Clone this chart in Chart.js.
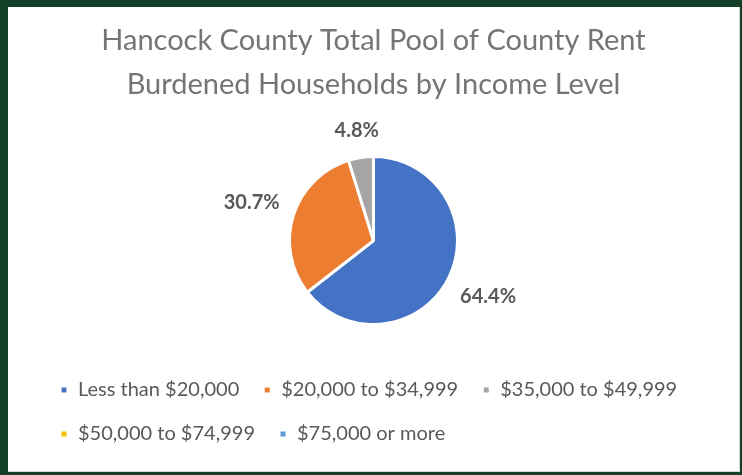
<!DOCTYPE html>
<html>
<head>
<meta charset="utf-8">
<script src="https://cdn.jsdelivr.net/npm/chart.js@4/dist/chart.umd.min.js"></script>
<style>
  html, body { margin: 0; padding: 0; }
  body { width: 742px; height: 475px; background: #143f29; position: relative; overflow: hidden; }
  #box {
    position: absolute; left: 8px; top: 7px; width: 731px; height: 464px;
    background: #fff; border-right: 1px solid #d4d4d4; border-bottom: 1px solid #d4d4d4;
  }
</style>
</head>
<body>
<div id="box"><canvas id="chart" width="731" height="464"></canvas></div>
<script>
var categories = [
  "Less than $20,000",
  "$20,000 to $34,999",
  "$35,000 to $49,999",
  "$50,000 to $74,999",
  "$75,000 or more"
];
var shares = [64.4, 30.7, 4.8, 0, 0];
var sliceColors = ["#4472C4", "#ED7D31", "#A5A5A5", "#FFC000", "#5B9BD5"];

// labels outside the slices, like Excel "outside end"
var outsideLabels = {
  id: "outsideLabels",
  afterDatasetsDraw: function (chart) {
    var ctx = chart.ctx;
    var meta = chart.getDatasetMeta(0);
    ctx.save();
    ctx.font = "bold 20px Lato";
    ctx.fillStyle = "#595959";
    ctx.textAlign = "center";
    ctx.textBaseline = "middle";
    meta.data.forEach(function (arc, i) {
      var v = shares[i];
      if (!v) return;
      var p = arc.getProps(["x", "y", "startAngle", "endAngle", "outerRadius"], true);
      var mid = (p.startAngle + p.endAngle) / 2;
      var text = v.toFixed(1) + "%";
      var w = ctx.measureText(text).width;
      var c = Math.cos(mid), s = Math.sin(mid);
      var r = p.outerRadius + 14 + Math.abs(c) * w / 2 + Math.abs(s) * 10;
      ctx.fillText(text, p.x + c * r, p.y + s * r);
    });
    ctx.restore();
  }
};

var ctx = document.getElementById("chart").getContext("2d");
var myChart = new Chart(ctx, {
  type: "pie",
  data: {
    labels: categories,
    datasets: [{
      data: shares,
      backgroundColor: sliceColors,
      borderColor: "#ffffff",
      borderWidth: 3,
      radius: 84
    }]
  },
  options: {
    responsive: false,
    animation: false,
    layout: { padding: { left: 28, right: 28, top: 0, bottom: 17 } },
    plugins: {
      title: {
        display: true,
        text: ["Hancock County Total Pool of County Rent", "Burdened Households by Income Level"],
        color: "#757575",
        font: { family: "Lato", size: 29, weight: "normal", lineHeight: 1.52 },
        padding: { top: 12, bottom: 18 }
      },
      legend: {
        display: true,
        position: "bottom",
        align: "start",
        labels: {
          boxWidth: 8,
          boxHeight: 8,
          padding: 24,
          color: "#595959",
          font: { family: "Lato", size: 20 }
        }
      },
      tooltip: { enabled: false }
    }
  },
  plugins: [outsideLabels]
});
</script>
</body>
</html>
